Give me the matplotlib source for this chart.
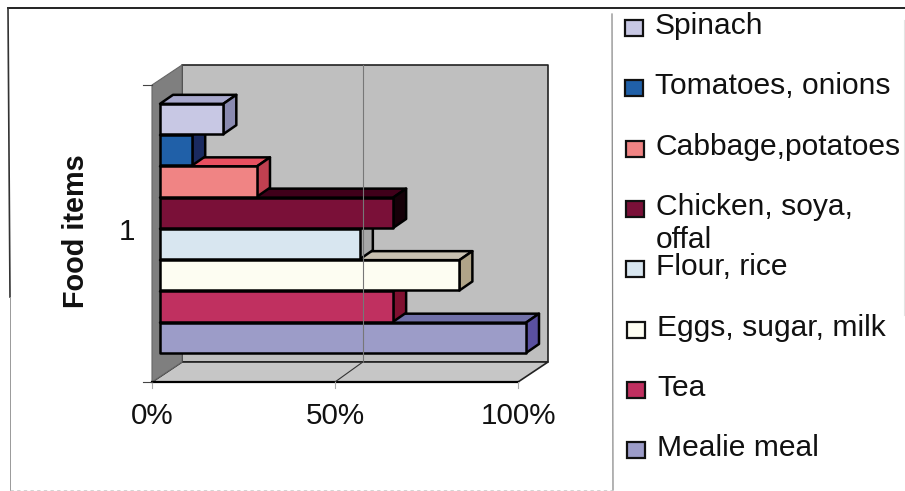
import numpy as np
import matplotlib
matplotlib.use("Agg")
import matplotlib.pyplot as plt
from matplotlib.patches import Polygon, Rectangle

plt.rcParams['font.family'] = ['Liberation Sans', 'DejaVu Sans']

# bottom to top, same order the bars are stacked on the chart
foods = ["Mealie meal", "Tea", "Eggs, sugar, milk", "Flour, rice",
         "Chicken, soya,\noffal", "Cabbage,potatoes", "Tomatoes, onions", "Spinach"]
percent = [100, 63.7, 81.8, 54.6, 63.7, 26.5, 8.8, 17.3]
front_col = ["#9c9cc8", "#c03060", "#fdfdf2", "#d8e6f0", "#7a1038", "#f08484", "#2060a8", "#c8c8e4"]
top_col = ["#7070a8", "#a02850", "#c8c0b0", "#b8c4cc", "#40001a", "#e85060", "#1a3a80", "#a8a8cc"]
side_col = ["#5a50a0", "#801030", "#b0a488", "#a8a8a8", "#150008", "#c04050", "#1a2a60", "#8a8ab0"]
x_ticks = [0, 50, 100]
x_labels = ["0%", "50%", "100%"]

W, H = 905, 491
fig = plt.figure(figsize=(W / 100, H / 100), dpi=100, facecolor="white")

# main axes: x in percent, y in bar slots (one slot = 31.26 px)
left, right, bottom, top = 152, 518, 382, 85
ax = fig.add_axes([left / W, 1 - bottom / H, (right - left) / W, (bottom - top) / H])
ax.set_xlim(0, 100)
ax.set_ylim(0, 9.5)
ax.axis("off")

px_x = 100 / (right - left)
px_y = 9.5 / (bottom - top)
wall_dx, wall_dy = 30 * px_x, 20 * px_y
bar_x0, bar_y0 = 8 * px_x, 29 * px_y
bar_dx, bar_dy = 13 * px_x, 9 * px_y
line = dict(edgecolor="black", linewidth=1.8, joinstyle="round", clip_on=False)


def poly(pts, color, **kw):
    ax.add_patch(Polygon(pts, closed=True, facecolor=color, **{**line, **kw}))


# back wall, floor, left wall
poly([(wall_dx, wall_dy), (100 + wall_dx, wall_dy), (100 + wall_dx, 9.5 + wall_dy), (wall_dx, 9.5 + wall_dy)],
     "#bfbfbf", edgecolor="#222222", linewidth=1.2)
poly([(0, 0), (100, 0), (100 + wall_dx, wall_dy), (wall_dx, wall_dy)], "#c6c6c6", edgecolor="#222222", linewidth=1.2)
poly([(0, 0), (wall_dx, wall_dy), (wall_dx, 9.5 + wall_dy), (0, 9.5)], "#7f7f7f", edgecolor="#666666", linewidth=0.8)
ax.plot([0, 100], [0, 0], color="black", lw=1.6, clip_on=False)

# 50% gridline on the wall and floor
ax.plot([50 + wall_dx - 0.6, 50 + wall_dx - 0.6], [wall_dy, 9.5 + wall_dy], color="#777777", lw=0.8, clip_on=False)
ax.plot([50, 50 + wall_dx - 0.6], [0, wall_dy], color="#333333", lw=0.8)

# tick marks
for t in x_ticks:
    ax.plot([t, t], [0, -6 * px_y], color="#aaaaaa", lw=0.8, clip_on=False)
for y in [0, 9.5]:
    ax.plot([-9 * px_x, 0], [y, y], color="#444444", lw=0.8, clip_on=False)

# bars, lowest first so each one covers the top face of the one below
for i, (v, fc, tc, sc) in enumerate(zip(percent, front_col, top_col, side_col)):
    x0 = bar_x0
    x1 = bar_x0 + v
    y0 = bar_y0 + i
    y1 = y0 + 0.97
    poly([(x0, y1), (x1, y1), (x1 + bar_dx, y1 + bar_dy), (x0 + bar_dx, y1 + bar_dy)], tc)
    poly([(x1, y0), (x1 + bar_dx, y0 + bar_dy), (x1 + bar_dx, y1 + bar_dy), (x1, y1)], sc)
    poly([(x0, y0), (x1, y0), (x1, y1), (x0, y1)], fc)

for t, lab in zip(x_ticks, x_labels):
    ax.text(t, -33.5 * px_y, lab, ha="center", va="center", fontsize=21.3, color="#111111")

# overlay in pixel coordinates for the frame, axis titles and legend
ov = fig.add_axes([0, 0, 1, 1])
ov.set_xlim(0, W)
ov.set_ylim(H, 0)
ov.axis("off")
ov.patch.set_alpha(0)

ov.plot([8, 905], [8, 8], color="#222222", lw=1.4)
ov.plot([8, 10], [8, 297], color="#333333", lw=1.2)
ov.plot([10, 10], [297, 491], color="#999999", lw=0.7)
ov.plot([10, 612], [490, 490], color="#cccccc", lw=0.6, linestyle=(0, (4, 4)))
ov.plot([612, 613], [14, 490], color="#888888", lw=0.9)
ov.plot([904, 904], [20, 315], color="#e4e4e4", lw=0.8)

ov.text(127, 232, "1", ha="center", va="center", fontsize=21.3, color="#111111")
ov.text(76, 231, "Food items", rotation=90, ha="center", va="center", fontsize=20.8,
        fontweight="bold", color="#111111")

# legend reads top to bottom, reverse of the bars
for n, (name, fc) in enumerate(zip(foods[::-1], front_col[::-1])):
    yc = 28 + 60.3 * n
    skew = 0.35 * n
    ov.add_patch(Rectangle((625 + skew, yc - 8), 18, 16, facecolor=fc, edgecolor="#111111", linewidth=1.6))
    lines = name.split("\n")
    ov.text(655 + skew, yc + 6, lines[0], ha="left", va="baseline", fontsize=21.6, color="#111111")
    if len(lines) > 1:
        ov.text(655 + skew, yc + 39, lines[1], ha="left", va="baseline", fontsize=21.6, color="#111111")

fig.savefig("out.png", dpi=100)
